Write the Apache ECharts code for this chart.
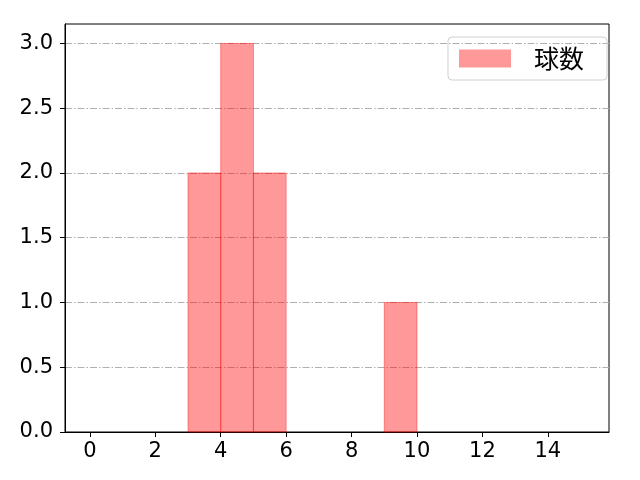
<!DOCTYPE html>
<html><head><meta charset="utf-8">
<script src="https://cdn.jsdelivr.net/npm/echarts@6/dist/echarts.min.js"></script>
<style>html,body{margin:0;padding:0;background:#fff}#c{width:640px;height:480px}</style>
</head><body><div id="c"></div>
<script>
const binStarts = [3, 4, 5, 9];
const binEnds = [4, 5, 6, 10];
const counts = [2, 3, 2, 1];
const xTicks = [0, 2, 4, 6, 8, 10, 12, 14];
const yTicks = [0, 0.5, 1, 1.5, 2, 2.5, 3];
const seriesName = '球数';

const font = '"Noto Sans CJK JP", "Noto Sans", sans-serif';
const numFont = '"DejaVu Sans", sans-serif';
const chart = echarts.init(document.getElementById('c'));
const data = binStarts.map((s, i) => [s, binEnds[i], counts[i]]);
chart.setOption({
  animation: false,
  grid: { left: 65, right: 31, top: 24, bottom: 48, show: true, borderColor: '#000', borderWidth: 1, backgroundColor: 'transparent' },
  legend: {
    right: 33, top: 37, itemWidth: 52, itemHeight: 18, itemGap: 10,
    padding: [9, 23, 9, 11],
    borderColor: '#d0d0d0', borderWidth: 1, borderRadius: 4,
    textStyle: { fontFamily: font, fontSize: 25, color: '#000', padding: [0, 0, 0, 18] },
    data: [{ name: seriesName, icon: 'rect' }]
  },
  xAxis: {
    type: 'value', min: -0.76, max: 15.87,
    axisLine: { show: true, onZero: false, lineStyle: { color: '#000', width: 1 } },
    axisTick: { show: true, inside: false, length: 5, customValues: xTicks, lineStyle: { color: '#000' } },
    axisLabel: { customValues: xTicks, fontFamily: numFont, fontSize: 21, color: '#000', margin: 9 },
    splitLine: { show: false }
  },
  yAxis: {
    type: 'value', min: 0, max: 3.15,
    axisLine: { show: true, onZero: false, lineStyle: { color: '#000', width: 1 } },
    axisTick: { show: true, length: 5, customValues: yTicks, lineStyle: { color: '#000' } },
    axisLabel: { customValues: yTicks, fontFamily: numFont, fontSize: 21, color: '#000', margin: 12,
      formatter: v => v.toFixed(1) },
    splitLine: { show: true, customValues: yTicks, lineStyle: { color: '#b0b0b0', width: 1, type: [7, 2, 1.5, 2] } }
  },
  series: [{
    name: seriesName, type: 'custom', z: 2,
    itemStyle: { color: 'rgba(255,0,0,0.4)', borderColor: 'rgba(255,0,0,0.4)' },
    encode: { x: [0, 1], y: 2 },
    data: data,
    renderItem: (params, api) => {
      const p0 = api.coord([api.value(0), api.value(2)]);
      const p1 = api.coord([api.value(1), 0]);
      return {
        type: 'rect',
        shape: { x: p0[0], y: p0[1], width: p1[0] - p0[0], height: p1[1] - p0[1] },
        style: { fill: 'rgba(255,0,0,0.4)', stroke: 'rgba(255,0,0,0.4)', lineWidth: 1 }
      };
    }
  }]
});
</script></body></html>
